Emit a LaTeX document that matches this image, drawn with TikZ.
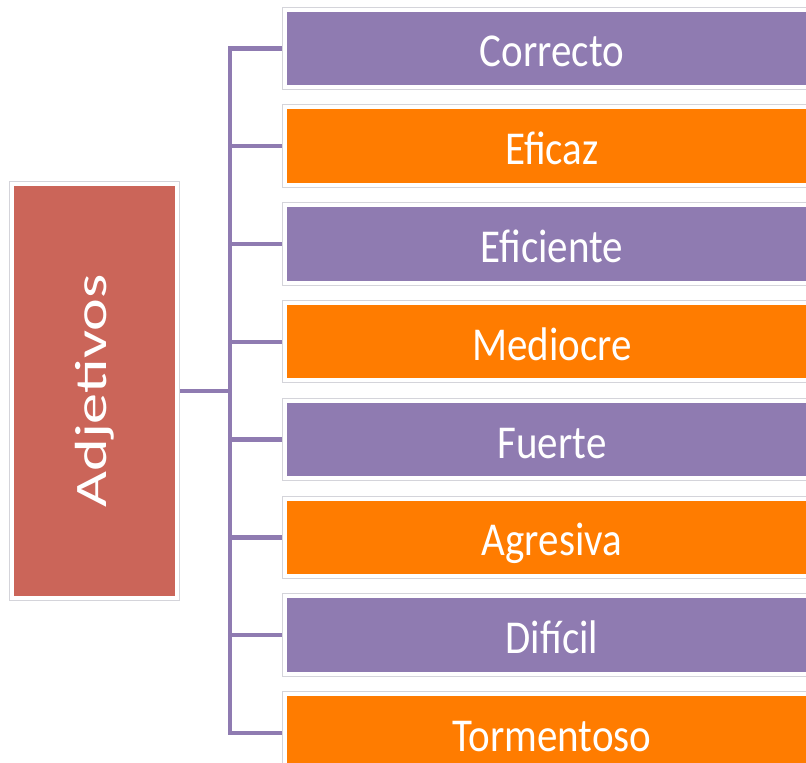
\documentclass[tikz,border=0pt]{standalone}
\usepackage{fontspec}
\setmainfont{Carlito}
\usepackage{graphicx}
\usetikzlibrary{positioning}
\definecolor{purple colour}{RGB}{143,123,177}
\definecolor{orange colour}{RGB}{255,124,0}
\definecolor{title colour}{RGB}{203,101,89}
\definecolor{edge colour}{RGB}{212,212,218}
\tikzset{
    % White rim with a faint grey outline, as round every box
    framed/.style={draw=white, line width=4pt,
        preaction={draw=edge colour, line width=6pt}},
    % Centre aligned node text
    every node/.style={align=center},
}
\pgfdeclarelayer{background}
\pgfsetlayers{background,main}
\newcommand{\itemtext}[1]{\scalebox{1}[1.15]{\fontsize{41}{41}\selectfont #1}}

\begin{document}
\begin{tikzpicture}[
    x=1pt, y=1pt,
    item/.style={framed, text=white, minimum width=534pt,
        minimum height=77.5pt, inner sep=0pt, anchor=west,
        text height=37pt, text depth=0pt},
    odd item/.style={item, fill=purple colour},
    even item/.style={item, fill=orange colour},
    title/.style={framed, fill=title colour, text=white, minimum width=414pt,
        minimum height=164.5pt, inner sep=0pt},
    link/.style={draw=purple colour, line width=4.4pt},
]
\useasboundingbox (0,0) rectangle (806,-763);

\path
    (283,-48.3) node [odd item] (correcto) {\itemtext{Correcto}}
    ++(0,-97.8) node [even item] (eficaz) {\itemtext{Eficaz}}
    ++(0,-97.8) node [odd item] (eficiente) {\itemtext{Eficiente}}
    ++(0,-97.8) node [even item] (mediocre) {\itemtext{Mediocre}}
    ++(0,-97.8) node [odd item] (fuerte) {\itemtext{Fuerte}}
    ++(0,-97.8) node [even item] (agresiva) {\itemtext{Agresiva}}
    ++(0,-97.8) node [odd item] (dificil) {\itemtext{Difícil}}
    ++(0,-97.8) node [even item] (tormentoso) {\itemtext{Tormentoso}}
    (94.5,-391) node [title, rotate=90] (adjetivos)
        {\scalebox{1.38}[1]{\fontsize{45}{45}\selectfont Adjetivos}};

\coordinate (spine) at (230,0);

\begin{pgfonlayer}{background}
\draw [link] (correcto.west) -| (tormentoso.west -| spine) -- (tormentoso.west);
\draw [link] (eficaz.west -| spine) -- (eficaz.west);
\draw [link] (eficiente.west -| spine) -- (eficiente.west);
\draw [link] (mediocre.west -| spine) -- (mediocre.west);
\draw [link] (fuerte.west -| spine) -- (fuerte.west);
\draw [link] (agresiva.west -| spine) -- (agresiva.west);
\draw [link] (dificil.west -| spine) -- (dificil.west);
\draw [link] (adjetivos.center) -- (adjetivos.center -| spine);
\end{pgfonlayer}

\end{tikzpicture}
\end{document}
